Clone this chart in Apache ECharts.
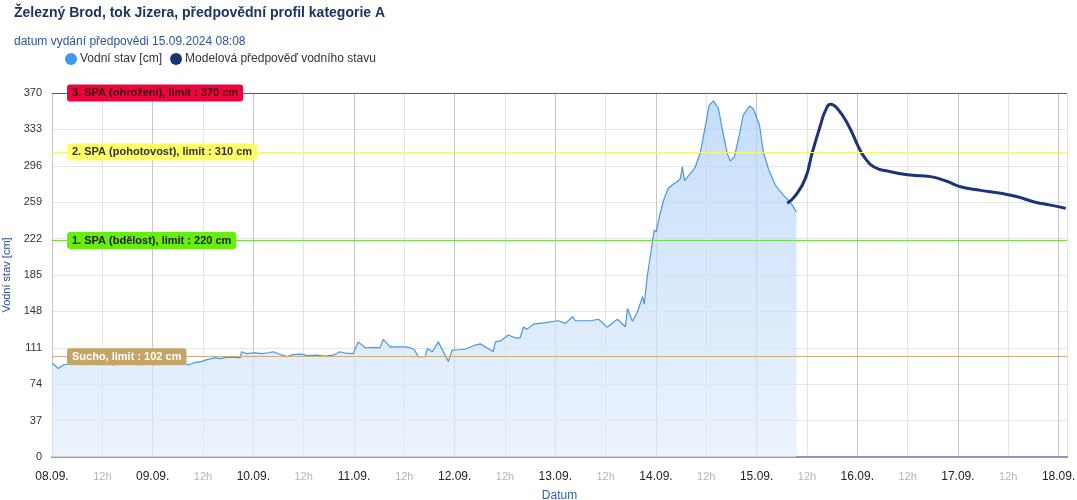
<!DOCTYPE html>
<html>
<head>
<meta charset="utf-8">
<script src="https://cdn.jsdelivr.net/npm/echarts@6/dist/echarts.min.js"></script>
<style>html,body{margin:0;padding:0;background:#fff}#c{width:1077px;height:500px}</style>
</head>
<body>
<div id="c"></div>
<script>
// hours since 08.09.2024 00:00
var obsTime = [0,1.5,2.9,5,7,8.6,10,11.5,13,14.5,16,17.5,19,20.5,22,23.5,25,26.5,28,29.5,31,32.5,34,35.5,37,38.9,40,42,44.9,45.2,46.5,48,50,51.5,52.7,54,56,57.5,59.2,61,63,65,67,68.7,70,71.8,73,74.7,76.5,78.2,79,80.6,82.5,84.2,85.4,86.4,87.3,89,89.5,90.7,92.1,94.5,95.4,97,98.5,100.9,102.1,103.7,105.2,105.7,106.9,108.8,110.5,111.6,112.4,113.3,114.8,117.6,120.7,122.4,124.1,124.8,126.5,128.4,130.3,132.4,133.6,134.8,136.7,137.2,138.4,139.6,140.8,141.2,141.9,143.1,143.6,144.1,144.8,145.8,146.9,148,149.1,149.8,150.3,150.8,152.2,153.4,154.6,155.8,156.7,157.7,158.9,160.1,161,161.7,162.7,163.7,164.8,166.3,167.2,168.7,169.6,170.8,172.5,174.4,175.6,176.5,177.5];
var obsLevel = [95.5,90,94,94,94,94.5,96,94,96,93.5,96,94,96.5,93.5,96,94,96,94,96.5,94,96,93.5,96,97,99,101,100,101.5,101,107,105,106,105,106,107,105,102,104,104.5,103,103.5,102.5,103.5,107,105.5,105,117,111,111.5,111,119.6,112,112,112,111,109,102,102,110.4,107,117,97,108.7,109,109.5,113.8,115,111,107,117,118,124,121,121,132,130,135,136.5,138.5,135.8,142.6,138.5,138.5,138.5,140,131.8,136,140,132.4,151,138,147.7,163,155.5,183,217,230.7,229,244,261,273,277,280,283,295,281,288,295,310,337,357.7,362,354,327,308.6,300.8,305,324,347.6,356.7,354,337,310,293,276,266,261,256,249];
var fcTime = [175.3,177.3,179.6,181.3,183.2,184.4,185.6,187.3,189.9,192.3,193.5,195.9,199.9,204.7,209.5,213.5,216.6,221.4,226.2,230.2,234,238.1,241.7];
var fcLevel = [258,266,283,310,337,352,358.5,354,337,315,306,295,290,286.6,285,280,274.7,271,268,264.5,259.5,256,252.7];
var dayLabels = ['08.09.','09.09.','10.09.','11.09.','12.09.','13.09.','14.09.','15.09.','16.09.','17.09.','18.09.'];
var yTicks = [0,37,74,111,148,185,222,259,296,333,370];
var limitNames = ['3. SPA (ohrožení), limit : 370 cm','2. SPA (pohotovost), limit : 310 cm','1. SPA (bdělost), limit : 220 cm','Sucho, limit : 102 cm'];
var limitValues = [370, 310, 220, 102];
var limitLineColors = ['#e8173f','#f5f56e','#74e040','#cbb07a'];
var limitBgColors = ['#e8063c','#ffff66','#66ee11','#c4a565'];
var limitTextColors = ['#4a0010','#333333','#222222','#ffffff'];

var FONT = '"Liberation Sans", Arial, sans-serif';
function pairs(t, v){ return t.map(function(x,i){ return [x, v[i]]; }); }

var series = [
  {
    name:'Vodní stav [cm]', type:'line', data:pairs(obsTime, obsLevel),
    showSymbol:false, symbol:'circle', smooth:false, z:2,
    itemStyle:{color:'#3f97ee'},
    lineStyle:{color:'#4a96e4', width:1.2},
    areaStyle:{color:new echarts.graphic.LinearGradient(0,0,0,1,[
      {offset:0, color:'#aed0f7'},{offset:1, color:'#e3eefc'}])}
  },
  {
    name:'Modelová předpověď vodního stavu', type:'line', data:pairs(fcTime, fcLevel),
    showSymbol:false, symbol:'circle', smooth:true, z:3,
    itemStyle:{color:'#1b3577'},
    lineStyle:{color:'#1b3577', width:3}
  }
];
limitValues.forEach(function(v, i){
  series.push({
    name:'limit' + i, type:'line', data:[], z:4, silent:true, clip:false,
    markLine:{
      silent:true, symbol:'none', animation:false,
      lineStyle:{color:limitLineColors[i], width:1, type:'solid', opacity:1},
      emphasis:{disabled:true},
      label:{show:true, position:'insideStart', distance:[15,0],
        formatter:limitNames[i], backgroundColor:limitBgColors[i], color:limitTextColors[i],
        fontSize:11, fontWeight:'bold', fontFamily:FONT,
        padding:[3,5,3,5], borderRadius:3},
      data:[{yAxis:v}]
    }
  });
});

var chart = echarts.init(document.getElementById('c'), null, {renderer:'canvas'});
chart.setOption({
  animation:false,
  backgroundColor:'#fff',
  textStyle:{fontFamily:FONT},
  title:[
    {text:'Železný Brod, tok Jizera, předpovědní profil kategorie A', left:9, top:1,
     textStyle:{fontSize:14, fontWeight:'bold', color:'#1d3461', fontFamily:FONT}},
    {text:'datum vydání předpovědi 15.09.2024 08:08', left:9, top:31,
     textStyle:{fontSize:12, fontWeight:'normal', color:'#2b5597', fontFamily:FONT}}
  ],
  legend:{
    left:60, top:48, icon:'circle', itemWidth:12, itemHeight:12, itemGap:8,
    textStyle:{fontSize:12, color:'#333', fontFamily:FONT, padding:[0,0,0,-2]},
    data:['Vodní stav [cm]','Modelová předpověď vodního stavu']
  },
  grid:{left:52, right:10, top:93, bottom:43, containLabel:false, outerBoundsMode:'none'},
  xAxis:{
    type:'value', min:0, max:242, interval:12,
    name:'Datum', nameLocation:'middle', nameGap:33,
    nameTextStyle:{color:'#2f62ad', fontSize:12, fontFamily:FONT},
    axisLine:{show:true, lineStyle:{color:'#8c98b9', width:2}},
    axisTick:{show:false},
    axisLabel:{
      margin:14,
      formatter:function(v){
        if (v % 24 === 0) return '{d|' + dayLabels[v/24] + '}';
        if (v % 12 === 0) return '{h|12h}';
        return '';
      },
      rich:{
        d:{fontSize:12, color:'#222', fontFamily:FONT},
        h:{fontSize:11, color:'#b5b5b5', fontFamily:FONT}
      }
    },
    splitLine:{show:true, lineStyle:{color:['#c6c6c6','#e4e4e4'], width:1}}
  },
  yAxis:{
    type:'value', min:0, max:370, interval:37,
    name:'Vodní stav [cm]', nameLocation:'middle', nameGap:38,
    nameTextStyle:{color:'#2b4f8f', fontSize:11, fontFamily:FONT},
    axisLine:{show:false}, axisTick:{show:false},
    axisLabel:{fontSize:11, color:'#333', margin:10, fontFamily:FONT,
      formatter:function(v){ return yTicks.indexOf(v) >= 0 ? String(v) : ''; }},
    splitLine:{show:true, lineStyle:{color:'#e4e4e4', width:1}}
  },
  series:series
});
</script>
</body>
</html>
